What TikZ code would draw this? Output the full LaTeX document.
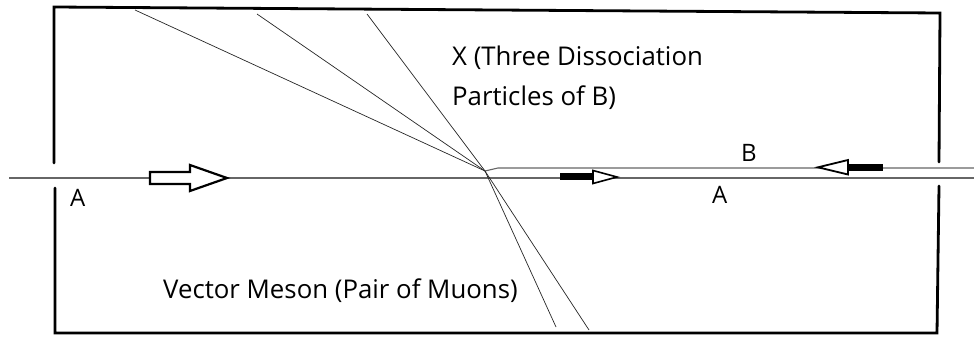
\documentclass[tikz,border=0pt]{standalone}
\usepackage{fontspec}
\setmainfont{Open Sans}
\begin{document}
\begin{tikzpicture}[x=1pt,y=-1pt,
  frame/.style={line width=2.8pt,black,line cap=round},
  beam/.style={line width=1.1pt,black!60},
  track/.style={line width=0.7pt,black!85},
  hollowarrow/.style={line width=2.2pt,black,fill=white,line join=miter},
  lbl/.style={inner sep=0pt,anchor=base west,font=\fontsize{25.8}{40}\selectfont},
  small/.style={inner sep=0pt,anchor=base west,font=\fontsize{24}{28}\selectfont}]
\useasboundingbox (0,0) rectangle (974,337);
% frame
\coordinate (tl) at (54,7);
\coordinate (tr) at (940,13);
\coordinate (lu) at (54,163);
\coordinate (ll) at (55,188);
\coordinate (bl) at (55,333);
\coordinate (br) at (937,333);
\coordinate (ru) at (939,162);
\coordinate (rl) at (939,186);
\draw[frame] (lu) -- (tl) -- (tr) -- (ru);
\draw[frame] (ll) -- (bl) -- (br) -- (rl);
% beams
\coordinate (a0) at (9,178);
\coordinate (a1) at (974,178);
\coordinate (b0) at (498,168);
\coordinate (b1) at (974,168);
\coordinate (V) at (485,171);
\draw[beam] (a0) -- (a1);
\draw[beam] (V) -- (b0) -- (b1);
% tracks
\coordinate (t1) at (135,10);
\coordinate (t2) at (257,14);
\coordinate (t3) at (367,14);
\coordinate (m1) at (556,327);
\coordinate (m2) at (589,330);
\foreach \e in {t1,t2,t3,m1,m2} \draw[track] (V) -- (\e);
% arrows
\draw[hollowarrow] (150,172) -- (190,172) -- (190,165) -- (227,178) -- (190,191) -- (190,184) -- (150,184) -- cycle;
\fill[black] (560,173) rectangle (593,180);
\draw[line width=1.6pt,fill=white] (593,170.5) -- (617,177) -- (593,183.5) -- cycle;
\fill[black] (848,163.5) rectangle (883,171);
\draw[line width=1.8pt,fill=white] (848,160) -- (818,167.3) -- (848,174.5) -- cycle;
% labels
\node[lbl] (x1) at (452,66) {X (Three Dissociation};
\node[lbl] (x2) at (452,105) {Particles of B)};
\node[lbl] (vm) at (163,298) {Vector Meson (Pair of Muons)};
\node[small] (la) at (70,206) {A};
\node[small] (ra) at (712,203) {A};
\node[small] (rb) at (741,161) {B};
\end{tikzpicture}
\end{document}
